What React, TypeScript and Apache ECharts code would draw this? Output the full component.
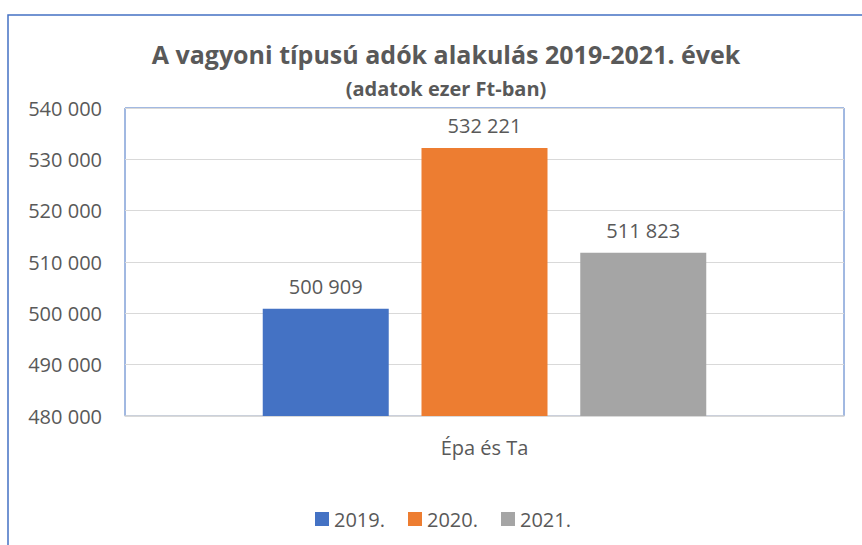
import React, { useEffect, useRef } from "react";
import * as echarts from "echarts";

const categories = ["Épa és Ta"];
const seriesNames = ["2019.", "2020.", "2021."];
const values2019 = [500909];
const values2020 = [532221];
const values2021 = [511823];
const seriesColors = ["#4472C4", "#ED7D31", "#A5A5A5"];
const titleText = "A vagyoni típusú adók alakulás 2019-2021. évek";
const subtitleText = "(adatok ezer Ft-ban)";

const FONT = "'Open Sans', 'Noto Sans', sans-serif";
const TXT = "#595959";

function fmt(v: number): string {
  return String(Math.round(v)).replace(/\B(?=(\d{3})+(?!\d))/g, " ");
}

export default function App() {
  const ref = useRef<HTMLDivElement>(null);
  useEffect(() => {
    if (!ref.current) return;
    const chart = echarts.init(ref.current, null, { renderer: "svg" });
    const allValues = [values2019, values2020, values2021];
    chart.setOption({
      animation: false,
      backgroundColor: "#ffffff",
      textStyle: { fontFamily: FONT },
      title: [
        {
          text: titleText,
          left: 441,
          top: 36,
          textAlign: "center",
          textStyle: { fontFamily: FONT, fontWeight: "bold", fontSize: 25, color: TXT },
        },
        {
          text: subtitleText,
          left: 441,
          top: 73,
          textAlign: "center",
          textStyle: { fontFamily: FONT, fontWeight: "bold", fontSize: 20, color: TXT },
        },
      ],
      graphic: [
        {
          type: "rect",
          shape: { x: 8, y: 15, width: 900, height: 600 },
          style: { fill: "none", stroke: "#4472C4", lineWidth: 1.5 },
          silent: true,
        },
      ],
      legend: {
        left: 310,
        top: 504,
        itemWidth: 14,
        itemHeight: 14,
        itemGap: 23,
        icon: "rect",
        textStyle: { fontFamily: FONT, fontSize: 20, color: TXT },
        data: seriesNames,
      },
      grid: {
        left: 125,
        top: 108,
        right: 18,
        bottom: 129,
        show: true,
        borderColor: "#4472C4",
        borderWidth: 1,
        containLabel: false,
      },
      xAxis: {
        type: "category",
        data: categories,
        axisLine: { show: true, lineStyle: { color: "#d9d9d9", width: 1.5 } },
        axisTick: { show: false },
        axisLabel: { fontFamily: FONT, fontSize: 20, color: TXT, margin: 21 },
      },
      yAxis: {
        type: "value",
        min: 480000,
        max: 540000,
        interval: 10000,
        axisLine: { show: false },
        axisTick: { show: false },
        splitLine: { show: true, lineStyle: { color: "#d9d9d9", width: 1 } },
        axisLabel: {
          fontFamily: FONT,
          fontSize: 20,
          color: TXT,
          margin: 23,
          formatter: (v: number) => fmt(v),
        },
      },
      series: seriesNames.map((name, i) => ({
        name,
        type: "bar",
        data: allValues[i],
        barWidth: 126,
        barGap: "26%",
        itemStyle: { color: seriesColors[i] },
        label: {
          show: true,
          position: "top",
          distance: 12,
          fontFamily: FONT,
          fontSize: 20,
          color: TXT,
          formatter: (p: any) => fmt(p.value),
        },
      })),
    });
    return () => chart.dispose();
  }, []);
  return (
    <div
      ref={ref}
      style={{ position: "fixed", left: 0, top: 0, width: 862, height: 545 }}
    />
  );
}
